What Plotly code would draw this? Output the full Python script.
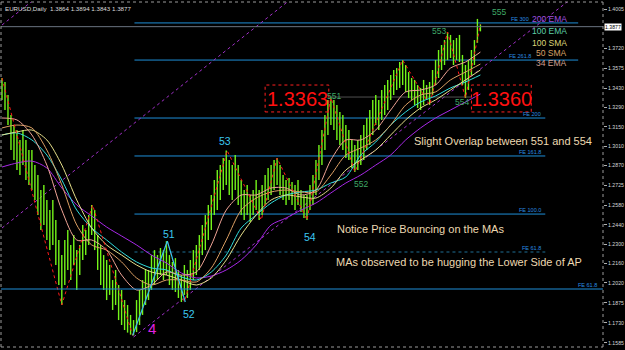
import plotly.graph_objects as go

# ---------------- data (EURUSD daily) ----------------
bar_high = [1.3505, 1.3476, 1.3382, 1.3237, 1.3164, 1.3128, 1.3056, 1.3128, 1.3056, 1.2983,
            1.2983, 1.2874, 1.2802, 1.2693, 1.2730, 1.2621, 1.2548, 1.2621, 1.2476, 1.2331,
            1.2222, 1.2331, 1.2403, 1.2295, 1.2367, 1.2258, 1.2295, 1.2440, 1.2403, 1.2512,
            1.2585, 1.2548, 1.2367, 1.2295, 1.2222, 1.2186, 1.2150, 1.2041, 1.2114, 1.2005,
            1.1969, 1.1896, 1.1860, 1.1788, 1.1751, 1.1896, 1.1969, 1.2041, 1.2114, 1.2114,
            1.2222, 1.2258, 1.2222, 1.2273, 1.2258, 1.2323, 1.2222, 1.2172, 1.2200, 1.2114,
            1.2077, 1.2150, 1.2114, 1.2186, 1.2258, 1.2295, 1.2367, 1.2440, 1.2512, 1.2585,
            1.2657, 1.2766, 1.2838, 1.2874, 1.2925, 1.2979, 1.2911, 1.2874, 1.2947, 1.2874,
            1.2766, 1.2693, 1.2730, 1.2657, 1.2693, 1.2766, 1.2693, 1.2730, 1.2802, 1.2853,
            1.2874, 1.2911, 1.2925, 1.2874, 1.2802, 1.2766, 1.2780, 1.2751, 1.2730, 1.2766,
            1.2693, 1.2657, 1.2657, 1.2730, 1.2802, 1.2911, 1.3019, 1.3128, 1.3237, 1.3346,
            1.3363, 1.3346, 1.3309, 1.3259, 1.3237, 1.3164, 1.3128, 1.3056, 1.3019, 1.3056,
            1.3092, 1.3164, 1.3215, 1.3273, 1.3346, 1.3382, 1.3346, 1.3418, 1.3454, 1.3491,
            1.3527, 1.3563, 1.3577, 1.3621, 1.3635, 1.3599, 1.3548, 1.3505, 1.3491, 1.3454,
            1.3433, 1.3491, 1.3454, 1.3476, 1.3563, 1.3635, 1.3708, 1.3744, 1.3780, 1.3838,
            1.3817, 1.3780, 1.3795, 1.3817, 1.3672, 1.3599, 1.3635, 1.3708, 1.3780, 1.3933,
            1.3894]
bar_low = [1.3346, 1.3273, 1.3164, 1.2983, 1.2911, 1.2838, 1.2802, 1.2874, 1.2766, 1.2730,
           1.2693, 1.2621, 1.2512, 1.2403, 1.2440, 1.2331, 1.2258, 1.2295, 1.2150, 1.2005,
           1.1860, 1.2005, 1.2114, 1.2041, 1.2150, 1.1969, 1.2077, 1.2186, 1.2222, 1.2295,
           1.2367, 1.2258, 1.2114, 1.2005, 1.1969, 1.1896, 1.1933, 1.1824, 1.1860, 1.1751,
           1.1715, 1.1679, 1.1660, 1.1645, 1.1640, 1.1664, 1.1715, 1.1788, 1.1860, 1.1896,
           1.1969, 1.2005, 1.2041, 1.2077, 1.2041, 1.2077, 1.2005, 1.1969, 1.1954, 1.1911,
           1.1882, 1.1933, 1.1911, 1.1969, 1.2041, 1.2077, 1.2114, 1.2222, 1.2258, 1.2331,
           1.2403, 1.2512, 1.2548, 1.2621, 1.2693, 1.2730, 1.2657, 1.2621, 1.2693, 1.2585,
           1.2512, 1.2476, 1.2512, 1.2461, 1.2512, 1.2548, 1.2476, 1.2512, 1.2585, 1.2621,
           1.2657, 1.2693, 1.2730, 1.2657, 1.2621, 1.2585, 1.2621, 1.2585, 1.2548, 1.2585,
           1.2534, 1.2490, 1.2476, 1.2548, 1.2585, 1.2657, 1.2766, 1.2874, 1.2983, 1.3092,
           1.3164, 1.3128, 1.3056, 1.3019, 1.2983, 1.2925, 1.2911, 1.2853, 1.2824, 1.2838,
           1.2874, 1.2911, 1.2983, 1.3019, 1.3092, 1.3164, 1.3128, 1.3201, 1.3237, 1.3273,
           1.3346, 1.3382, 1.3418, 1.3433, 1.3454, 1.3404, 1.3360, 1.3346, 1.3309, 1.3288,
           1.3273, 1.3309, 1.3346, 1.3309, 1.3382, 1.3454, 1.3505, 1.3563, 1.3599, 1.3635,
           1.3650, 1.3599, 1.3635, 1.3621, 1.3454, 1.3360, 1.3418, 1.3527, 1.3599, 1.3760,
           1.3843]

ma_idx = list(range(0, 161, 5))
ema34 = [1.3215, 1.3201, 1.3092, 1.2874, 1.2548, 1.2331, 1.2331, 1.2258, 1.2077, 1.1969, 1.2005,
         1.2099, 1.2077, 1.2099, 1.2295, 1.2548, 1.2657, 1.2657, 1.2708, 1.2708, 1.2657, 1.2693,
         1.2911, 1.3056, 1.3056, 1.3128, 1.3273, 1.3404, 1.3418, 1.3454, 1.3577, 1.3621, 1.3693]
sma50 = [1.3143, 1.3164, 1.3143, 1.2983, 1.2730, 1.2440, 1.2295, 1.2258, 1.2172, 1.2056, 1.2005,
         1.2041, 1.2041, 1.2027, 1.2128, 1.2331, 1.2548, 1.2635, 1.2679, 1.2693, 1.2679, 1.2679,
         1.2802, 1.2947, 1.2998, 1.3056, 1.3164, 1.3309, 1.3382, 1.3404, 1.3491, 1.3548, 1.3606]
sma100 = [1.3092, 1.3114, 1.3128, 1.3056, 1.2874, 1.2621, 1.2418, 1.2295, 1.2222, 1.2150, 1.2099,
          1.2077, 1.2041, 1.2005, 1.2056, 1.2186, 1.2367, 1.2512, 1.2621, 1.2657, 1.2643, 1.2635,
          1.2708, 1.2838, 1.2911, 1.2983, 1.3092, 1.3201, 1.3288, 1.3346, 1.3418, 1.3491, 1.3563]
ema100 = [1.3092, 1.3107, 1.3056, 1.2947, 1.2766, 1.2548, 1.2418, 1.2331, 1.2244, 1.2172, 1.2128,
          1.2114, 1.2063, 1.2041, 1.2099, 1.2222, 1.2418, 1.2512, 1.2599, 1.2657, 1.2679, 1.2693,
          1.2744, 1.2788, 1.2947, 1.3041, 1.3164, 1.3259, 1.3331, 1.3375, 1.3433, 1.3476, 1.3527]
ema200 = [1.2860, 1.2889, 1.2903, 1.2853, 1.2708, 1.2585, 1.2505, 1.2425, 1.2360, 1.2295, 1.2222,
          1.2164, 1.2092, 1.2056, 1.2070, 1.2114, 1.2186, 1.2295, 1.2440, 1.2490, 1.2548, 1.2599,
          1.2672, 1.2744, 1.2802, 1.2874, 1.2947, 1.3056, 1.3143, 1.3215, 1.3273, 1.3331, 1.3389]

zz_idx = [0, 20, 30.3, 43.7, 55.3, 61, 75.3, 86.7, 92, 102, 110, 118, 134, 143, 149, 155, 160]
zz_price = [1.3505, 1.1860, 1.2585, 1.1640, 1.2323, 1.1882, 1.2979, 1.2476, 1.2925, 1.2476,
            1.3363, 1.2824, 1.3635, 1.3309, 1.3838, 1.3360, 1.3894]
wave_idx = [43.7, 55.3, 61.3]
wave_price = [1.1640, 1.2323, 1.1882]

fe_names = ["FE 300", "FE 261.8", "FE 200", "FE 161.8", "FE 100.0", "FE 61.8"]
fe_price = [1.3904, 1.3635, 1.3215, 1.2940, 1.2519, 1.2244]
fe_from = 44.3
fe_to = [192.7, 192.7, 181.7, 181.7, 181.7, 181.7]
fe_label_x = [177.7, 178.3, 181.7, 181.7, 181.7, 181.7]
fe2_price = 1.1976

chan_x = [[0, 12], [0, 96], [44, 190]]
chan_y = [[1.3889, 1.4095], [1.2418, 1.4066], [1.1628, 1.4072]]

link_x = [109.3, 157]
link_y = [1.3367, 1.3367]

ytick_vals = [1.4005, 1.3720, 1.3575, 1.3430, 1.3290, 1.3150, 1.3010, 1.2870, 1.2725,
              1.2580, 1.2440, 1.2300, 1.2160, 1.2020, 1.1875, 1.1730, 1.1585]
ytick_text = ["%.4f" % v for v in ytick_vals]
last_price = 1.3877

wave_labels = ["53", "51", "52", "54"]
wave_lab_x = [74.7, 56, 62.7, 103]
wave_lab_y = [1.3049, 1.2374, 1.1795, 1.2353]
g_labels = ["551", "552", "553", "554", "555"]
g_lab_x = [111, 120, 146, 153.7, 166.3]
g_lab_y = [1.3375, 1.2737, 1.3845, 1.3331, 1.3983]

ma_names = ["200 EMA", "100 EMA", "100 SMA", "50 SMA", "34 EMA"]
ma_lab_y = [1.3933, 1.3845, 1.3759, 1.3686, 1.3614]

notes = ["Slight Overlap between 551 and 554", "Notice Price Bouncing on the MAs",
         "MAs observed to be hugging the Lower Side of AP"]
note_x = [137, 111.3, 111]
note_y = [1.3049, 1.2410, 1.2172]

box_text = ["1.3363", "1.3360"]
box_cx = [98.7, 167]
box_x0 = [88, 157]
box_x1 = [109.3, 177]
box_y = [1.3259, 1.3454]

# ---------------- figure ----------------
FONT = "Liberation Sans, Arial, sans-serif"
fig = go.Figure()

# Fibonacci expansion levels
for name, p, x1 in zip(fe_names, fe_price, fe_to):
    dotted = name == "FE 61.8"
    fig.add_trace(go.Scatter(x=[fe_from, x1], y=[p, p], mode="lines", hoverinfo="skip",
                             line=dict(color="#1f6f95" if dotted else "#1e8ed8", width=1,
                                       dash="dot" if dotted else "solid")))
fig.add_shape(type="line", xref="paper", x0=0, x1=1, y0=fe2_price, y1=fe2_price,
              line=dict(color="#1e8ed8", width=1))
fig.add_shape(type="line", xref="paper", x0=0, x1=1, y0=last_price, y1=last_price,
              line=dict(color="#6a7480", width=1))

# channel lines
for cx, cy in zip(chan_x, chan_y):
    fig.add_trace(go.Scatter(x=cx, y=cy, mode="lines", hoverinfo="skip",
                             line=dict(color="#a030c8", width=1, dash="dot")))
fig.add_trace(go.Scatter(x=link_x, y=link_y, mode="lines", hoverinfo="skip",
                         line=dict(color="#505050", width=1)))

# price bars
bx, by = [], []
for i, (h, l) in enumerate(zip(bar_high, bar_low)):
    bx += [i, i, None]
    by += [l, h, None]
fig.add_trace(go.Scatter(x=bx, y=by, mode="lines", hoverinfo="skip",
                         line=dict(color="#74f51a", width=1.4)))

# moving averages
for vals, col in [(ema200, "#a828e8"), (ema100, "#30dede"), (sma100, "#e6df8a"),
                  (sma50, "#dca064"), (ema34, "#f0a496")]:
    fig.add_trace(go.Scatter(x=ma_idx, y=vals, mode="lines", hoverinfo="skip",
                             line=dict(color=col, width=1, shape="spline", smoothing=0.8)))

# zigzag and wave
fig.add_trace(go.Scatter(x=zz_idx, y=zz_price, mode="lines", hoverinfo="skip",
                         line=dict(color="#ff1a1a", width=1, dash="dot")))
fig.add_trace(go.Scatter(x=wave_idx, y=wave_price, mode="lines", hoverinfo="skip",
                         line=dict(color="#2ec8f0", width=1.2)))

ann = []
for t, x, y in zip(wave_labels, wave_lab_x, wave_lab_y):
    ann.append(dict(x=x, y=y, text=t, showarrow=False,
                    font=dict(family=FONT, size=10.5, color="#3cc8f0")))
ann.append(dict(x=50, y=1.1693, text="4", showarrow=False,
                font=dict(family=FONT, size=15, color="#e020e0")))
for t, x, y in zip(g_labels, g_lab_x, g_lab_y):
    ann.append(dict(x=x, y=y, text=t, showarrow=False,
                    font=dict(family=FONT, size=8.5, color="#3fa866")))
for t, y, c in zip(ma_names, ma_lab_y, ["#a050e0", "#5ccfa8", "#dcd678", "#d9a066", "#d4a092"]):
    ann.append(dict(x=189.7, y=y, text=t, showarrow=False, xanchor="right",
                    font=dict(family=FONT, size=8.5, color=c)))
for t, x, y in zip(notes, note_x, note_y):
    ann.append(dict(x=x, y=y, text=t, showarrow=False, xanchor="left",
                    font=dict(family=FONT, size=11, color="#ecd8b0")))
for name, p, lx in zip(fe_names, fe_price, fe_label_x):
    ann.append(dict(x=lx, y=p, text=name, showarrow=False, xanchor="right",
                    yanchor="bottom", xshift=-2, yshift=-1,
                    font=dict(family=FONT, size=5.5, color="#2a8ee0")))
ann.append(dict(x=1, xref="paper", y=fe2_price, text="FE 61.8", showarrow=False,
                xanchor="right", yanchor="bottom", xshift=-4, yshift=-1,
                font=dict(family=FONT, size=5.5, color="#2a8ee0")))
for t, x, x0, x1 in zip(box_text, box_cx, box_x0, box_x1):
    fig.add_shape(type="rect", x0=x0, x1=x1, y0=box_y[0], y1=box_y[1],
                  line=dict(color="#ff2020", width=1, dash="dot"), fillcolor="rgba(0,0,0,0)")
    ann.append(dict(x=x, y=1.3356, text=t, showarrow=False,
                    font=dict(family=FONT, size=20, color="#ff1010")))
ann.append(dict(x=0, xref="paper", y=1, yref="paper", xanchor="left", yanchor="top",
                xshift=2, yshift=-1, showarrow=False,
                text="EURUSD,Daily  1.3864 1.3894 1.3843 1.3877",
                font=dict(family=FONT, size=6.2, color="#dcdcdc")))
ann.append(dict(x=1, xref="paper", y=last_price, xanchor="left", xshift=1, showarrow=False,
                text="1.3877", bgcolor="#ffffff", borderpad=0,
                font=dict(family=FONT, size=5.2, color="#000000")))

# frame
for x0, x1, y0, y1 in [(0, 0, 0, 1), (1, 1, 0, 1), (0, 1, 1, 1), (0, 1, 0, 0)]:
    fig.add_shape(type="line", xref="paper", yref="paper", x0=x0, x1=x1, y0=y0, y1=y1,
                  line=dict(color="#9a9a9a", width=1, dash="dot"))

fig.update_layout(
    width=625, height=350, margin=dict(l=1, r=20, t=2, b=3),
    paper_bgcolor="#000000", plot_bgcolor="#000000", showlegend=False,
    annotations=ann,
    xaxis=dict(range=[-0.333, 201.0], showgrid=False, zeroline=False, showticklabels=False,
               ticks="", showline=False, fixedrange=True),
    yaxis=dict(range=[1.15557, 1.40557], side="right", showgrid=False, zeroline=False,
               tickvals=ytick_vals, ticktext=ytick_text, ticks="outside", ticklen=3,
               tickcolor="#b0b0b0", showline=False,
               tickfont=dict(family=FONT, size=5.2, color="#d8d8d8")),
)

fig.write_html("out.html")
